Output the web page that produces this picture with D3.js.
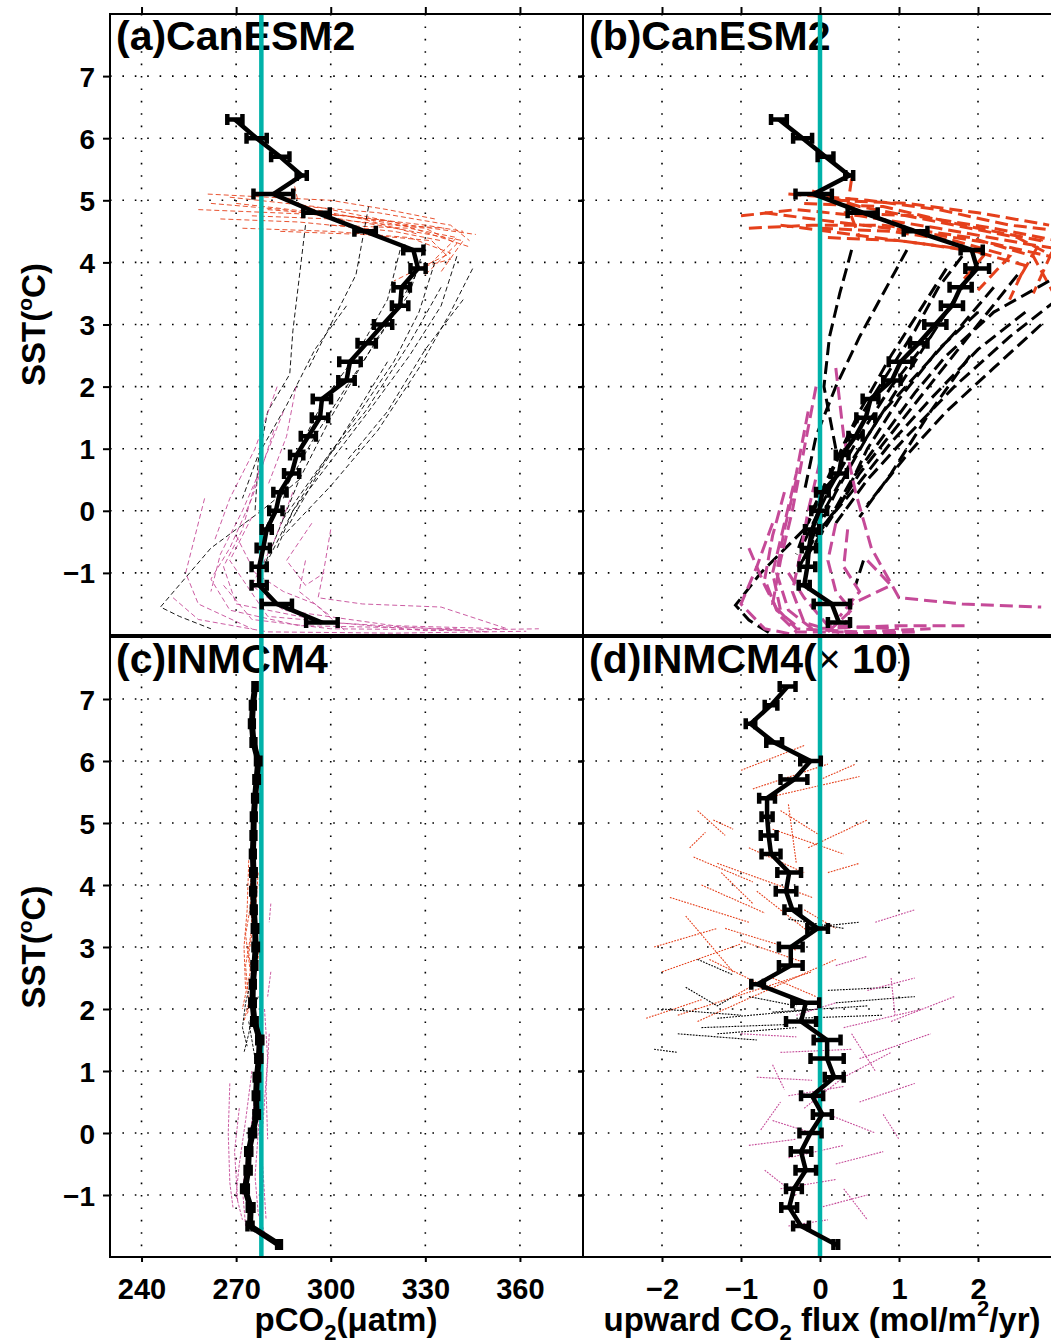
<!DOCTYPE html>
<html>
<head>
<meta charset="utf-8">
<script src="https://cdn.jsdelivr.net/npm/d3@7"></script>
<style>
  body { margin: 0; background: #fff; }
  svg { display: block; }
  text { font-family: "Liberation Sans", Arial, Helvetica, sans-serif; font-weight: bold; }
</style>
</head>
<body>
<svg id="chart"></svg>
<script>
// ---- data ----
const sstTicks = [-1, 0, 1, 2, 3, 4, 5, 6, 7];
const pco2Ticks = [240, 270, 300, 330, 360];
const fluxTicks = [-2, -1, 0, 1, 2];

// CanESM2 bin means (SST bins, pCO2, flux) with half-width of error bar
const sstCan = [6.3, 6.0, 5.7, 5.4, 5.1, 4.8, 4.5, 4.2, 3.9, 3.6, 3.3, 3.0, 2.7, 2.4, 2.1, 1.8, 1.5, 1.2, 0.9, 0.6, 0.3, 0.0, -0.3, -0.6, -0.9, -1.2, -1.5, -1.8];
const pco2Can = [269.6, 276.5, 284.0, 290.8, 281.8, 295.5, 310.9, 326.2, 327.7, 322.5, 322.0, 316.6, 311.4, 306.1, 305.0, 297.2, 296.6, 292.9, 289.2, 287.6, 283.9, 282.6, 279.7, 278.6, 277.3, 277.3, 282.9, 297.2];
const pco2ErrCan = [2.4, 3.2, 2.9, 1.6, 6.3, 4.2, 3.4, 3.2, 2.4, 2.6, 2.6, 2.9, 2.9, 3.4, 2.6, 2.9, 2.6, 2.4, 2.1, 2.4, 2.1, 2.1, 1.6, 2.1, 2.4, 2.4, 4.8, 5.0];
const fluxCan = [-0.52, -0.22, 0.07, 0.37, -0.08, 0.54, 1.21, 1.92, 1.99, 1.78, 1.67, 1.46, 1.25, 1.02, 0.91, 0.64, 0.58, 0.45, 0.28, 0.24, 0.03, -0.01, -0.10, -0.14, -0.16, -0.20, 0.15, 0.24];
const fluxErrCan = [0.10, 0.12, 0.10, 0.05, 0.23, 0.19, 0.15, 0.14, 0.15, 0.14, 0.14, 0.14, 0.11, 0.15, 0.11, 0.10, 0.12, 0.09, 0.08, 0.10, 0.08, 0.10, 0.09, 0.09, 0.10, 0.07, 0.23, 0.14];

// INMCM4 bin means
const sstInm = [7.2, 6.9, 6.6, 6.3, 6.0, 5.7, 5.4, 5.1, 4.8, 4.5, 4.2, 3.9, 3.6, 3.3, 3.0, 2.7, 2.4, 2.1, 1.8, 1.5, 1.2, 0.9, 0.6, 0.3, 0.0, -0.3, -0.6, -0.9, -1.2, -1.5, -1.8];
const pco2Inm = [276.0, 275.3, 275.0, 275.5, 277.0, 276.5, 276.0, 275.6, 275.5, 275.3, 275.5, 275.4, 275.6, 276.0, 276.2, 275.8, 275.3, 275.2, 275.8, 277.5, 277.2, 276.6, 276.3, 276.5, 275.2, 274.0, 273.8, 272.8, 274.6, 274.4, 283.6];
const pco2ErrInm = [0.5, 0.6, 0.6, 0.6, 0.7, 0.7, 0.6, 0.6, 0.6, 0.6, 0.7, 0.6, 0.6, 0.7, 0.7, 0.6, 0.6, 0.7, 0.7, 0.8, 0.8, 0.7, 0.7, 0.7, 0.8, 0.8, 0.8, 0.9, 0.9, 0.8, 0.6];
const fluxInm = [-0.41, -0.62, -0.88, -0.58, -0.12, -0.33, -0.67, -0.67, -0.65, -0.62, -0.39, -0.43, -0.35, -0.03, -0.37, -0.37, -0.79, -0.18, -0.24, 0.09, 0.09, 0.18, -0.10, 0.03, -0.12, -0.24, -0.18, -0.33, -0.39, -0.24, 0.20];
const fluxErrInm = [0.10, 0.08, 0.06, 0.10, 0.13, 0.17, 0.10, 0.07, 0.10, 0.12, 0.15, 0.13, 0.10, 0.13, 0.15, 0.15, 0.08, 0.17, 0.19, 0.17, 0.21, 0.12, 0.14, 0.12, 0.14, 0.13, 0.13, 0.10, 0.10, 0.10, 0.03];

// individual trajectories, [value, SST]
const aRed = [
  [[262, 4.95], [285, 4.85], [315, 4.6], [342, 4.35], [335, 3.85]],
  [[268, 5.05], [295, 4.9], [325, 4.6], [346, 4.45]],
  [[275, 4.75], [300, 4.7], [330, 4.55], [340, 4.3], [330, 3.8]],
  [[265, 4.7], [290, 4.65], [320, 4.5], [335, 4.35]],
  [[272, 4.55], [300, 4.5], [325, 4.4], [338, 4.15], [320, 3.7]],
  [[280, 4.85], [305, 4.75], [322, 4.6], [336, 4.55]],
  [[288, 5.35], [290, 4.9], [310, 4.7], [328, 4.45]],
  [[258, 4.85], [282, 4.8], [305, 4.75], [330, 4.6], [342, 4.5]],
  [[292, 4.9], [315, 4.8], [338, 4.6], [344, 4.35]],
  [[284, 4.5], [310, 4.45], [332, 4.35], [338, 4.05], [327, 3.9]],
  [[270, 4.95], [296, 4.8], [320, 4.65], [344, 4.25]],
  [[300, 4.6], [325, 4.55], [340, 4.4], [332, 4.0]],
  [[261, 5.1], [280, 5.05], [300, 5.0], [318, 4.85], [333, 4.7]]
];
const aBlack = [
  [[330, 4.3], [325, 3.5], [315, 2.8], [300, 1.5], [290, 0.5], [282, -0.5], [278, -1.0]],
  [[340, 4.1], [335, 3.3], [325, 2.5], [312, 1.6], [300, 0.8], [288, 0.0], [280, -0.8]],
  [[345, 3.9], [338, 3.2], [328, 2.3], [315, 1.3], [300, 0.4], [285, -0.4]],
  [[322, 4.2], [318, 3.4], [308, 2.5], [298, 1.8], [290, 1.0], [285, 0.2]],
  [[292, 4.6], [288, 2.9], [287, 2.2], [280, 1.6], [277, 0.8], [276, 0.0]],
  [[312, 4.9], [308, 3.8], [300, 3.0], [293, 2.3]],
  [[335, 3.6], [325, 2.7], [311, 1.6], [298, 0.8], [288, 0.0], [283, -0.6]],
  [[327, 3.8], [318, 3.0], [305, 2.0], [295, 1.2], [285, 0.3], [279, -0.3]],
  [[290, 0.5], [278, 0.0], [262, -0.6], [246, -1.55], [252, -1.7], [262, -1.9]],
  [[305, 3.3], [295, 2.6], [286, 1.7], [277, 0.9], [272, 0.2]],
  [[318, 2.4], [306, 1.4], [296, 0.6], [287, -0.2]],
  [[342, 3.4], [330, 2.6], [318, 1.6], [305, 0.8]],
  [[333, 4.0], [328, 3.2], [320, 2.4], [308, 1.5], [295, 0.6], [284, -0.2]]
];
const aMag = [
  [[282, 1.3], [275, 0.2], [268, -0.6], [262, -1.1], [268, -1.6], [290, -1.85], [340, -1.9]],
  [[278, 0.8], [272, -0.3], [266, -0.9], [270, -1.5], [300, -1.8], [350, -1.95]],
  [[288, 0.3], [282, -0.5], [275, -1.2], [285, -1.6], [320, -1.85], [355, -1.9]],
  [[300, -0.3], [298, -0.9], [296, -1.4], [310, -1.5], [335, -1.55], [356, -1.9]],
  [[294, -0.2], [286, -0.8], [292, -1.2], [298, -1.0]],
  [[260, 0.2], [256, -0.6], [254, -1.0], [258, -1.5], [275, -1.9]],
  [[285, 1.6], [278, 0.7], [272, 0.0], [265, -0.7], [262, -1.3]],
  [[270, -0.4], [276, -1.0], [285, -1.3], [295, -1.5], [305, -1.95]],
  [[250, -1.4], [258, -1.75], [280, -1.95], [320, -1.97], [362, -1.94]],
  [[275, -0.1], [268, -0.8], [280, -1.7], [330, -1.93], [366, -1.9]],
  [[292, -0.8], [290, -1.3], [300, -1.7]],
  [[283, 2.0], [276, 1.0], [268, 0.2], [263, -0.5]],
  [[289, 2.0], [286, 1.2], [280, 0.4]],
  [[266, -1.2], [275, -1.75], [300, -1.9], [345, -1.92]]
];

const bRed = [
  [[-1.0, 4.75], [-0.3, 4.85], [0.5, 4.75], [1.5, 4.55], [2.6, 4.3], [3.1, 4.2]],
  [[-0.7, 4.8], [0.2, 4.65], [1.2, 4.5], [2.2, 4.3], [2.9, 4.1]],
  [[-0.2, 4.95], [0.8, 4.9], [1.8, 4.6], [2.8, 4.35], [2.5, 3.7]],
  [[0.0, 4.55], [0.9, 4.5], [1.7, 4.35], [2.4, 4.1], [2.0, 3.55]],
  [[-0.1, 5.15], [0.5, 4.9], [1.5, 4.65], [2.5, 4.4], [3.1, 4.0]],
  [[-0.5, 4.6], [0.4, 4.45], [1.3, 4.3], [2.1, 4.15], [1.8, 3.7]],
  [[0.3, 4.8], [1.2, 4.75], [2.2, 4.55], [3.0, 4.35], [2.7, 3.5]],
  [[-0.4, 5.1], [0.6, 5.0], [1.5, 4.85], [2.4, 4.6], [3.1, 4.5]],
  [[0.1, 4.4], [1.0, 4.35], [1.9, 4.2], [2.6, 3.95], [2.4, 3.4]],
  [[-0.9, 4.55], [-0.1, 4.6], [0.8, 4.6], [1.9, 4.4], [2.7, 4.1], [3.0, 3.4]],
  [[0.4, 5.35], [0.35, 4.9], [0.5, 4.4]],
  [[0.2, 5.0], [1.1, 4.95], [2.0, 4.8], [2.9, 4.6]]
];
const bBlack = [
  [[2.0, 4.0], [1.6, 3.2], [1.1, 2.2], [0.6, 1.2], [0.2, 0.3], [-0.1, -0.5], [-0.3, -1.0]],
  [[2.5, 3.8], [2.0, 3.0], [1.5, 2.2], [1.0, 1.4], [0.5, 0.6], [0.1, -0.2], [-0.2, -0.8]],
  [[3.0, 3.4], [2.4, 2.8], [1.7, 2.0], [1.1, 1.2], [0.6, 0.5], [0.2, -0.2]],
  [[2.9, 3.7], [2.2, 3.2], [1.6, 2.5], [1.2, 1.9], [0.8, 1.2], [0.4, 0.5], [0.0, -0.4]],
  [[1.6, 3.9], [1.3, 3.3], [0.9, 2.5], [0.5, 1.6], [0.2, 0.8], [-0.1, 0.0], [-0.3, -0.7]],
  [[0.4, 4.2], [0.25, 3.5], [0.12, 2.8], [0.05, 2.0], [0.2, 1.0]],
  [[1.1, 4.2], [0.8, 3.5], [0.5, 2.8], [0.2, 2.0], [-0.05, 1.2], [-0.2, 0.3]],
  [[2.0, 3.2], [1.5, 2.6], [1.0, 1.8], [0.6, 1.0], [0.3, 0.2], [-0.15, -0.6]],
  [[1.4, 2.8], [0.9, 2.0], [0.5, 1.2], [0.1, 0.3], [-0.2, -0.5]],
  [[-0.2, -0.3], [-0.75, -1.0], [-1.07, -1.52], [-0.9, -1.76], [-0.6, -2.0]],
  [[2.6, 3.2], [2.0, 2.6], [1.4, 1.8], [0.9, 1.1], [0.4, 0.3], [0.0, -0.3]],
  [[1.9, 2.5], [1.4, 1.6], [0.9, 0.6], [0.5, -0.1]],
  [[2.2, 3.6], [1.8, 3.0], [1.3, 2.3], [0.8, 1.6], [0.4, 0.8], [0.05, 0.0], [-0.25, -0.9]],
  [[1.8, 4.1], [1.5, 3.6], [1.2, 2.9], [0.8, 2.1], [0.4, 1.3], [0.1, 0.5], [-0.15, -0.2]],
  [[0.55, -0.8], [0.45, -1.2]],
  [[2.8, 3.0], [2.2, 2.3], [1.6, 1.6], [1.1, 0.9], [0.6, 0.1]]
];
const bMag = [
  [[-0.05, 2.0], [-0.2, 1.0], [-0.35, 0.0], [-0.5, -0.8], [-0.6, -1.5], [-0.3, -1.9], [0.5, -1.95], [1.4, -1.9]],
  [[0.2, 2.3], [0.3, 1.2], [0.45, 0.3], [0.65, -0.6], [1.0, -1.4], [1.8, -1.5], [2.8, -1.55]],
  [[-0.9, -0.6], [-0.7, -1.2], [-0.5, -1.7], [-0.3, -1.95], [0.3, -1.95]],
  [[-0.3, 0.5], [-0.45, -0.3], [-0.55, -1.0], [-0.4, -1.6], [-0.1, -1.9], [1.0, -1.85], [1.9, -1.85]],
  [[-0.4, -1.0], [-0.2, -1.4], [0.1, -1.85], [1.0, -1.9]],
  [[0.2, -0.2], [0.1, -0.8], [0.2, -1.3], [0.4, -1.6], [0.1, -1.95]],
  [[-0.6, -0.2], [-0.8, -0.9], [-1.0, -1.5], [-0.7, -1.9], [-0.3, -2.0]],
  [[0.0, 0.8], [-0.15, 0.0], [-0.25, -0.7], [-0.35, -1.3], [-0.2, -1.8], [0.3, -1.98], [1.2, -1.95]],
  [[0.6, -0.8], [0.9, -1.2], [0.4, -1.5], [0.3, -1.9]],
  [[-0.45, 0.3], [-0.6, -0.4], [-0.7, -1.1], [-0.55, -1.6], [-0.3, -1.85]],
  [[-0.15, 1.6], [-0.3, 0.6], [-0.45, -0.2], [-0.6, -1.0], [-0.5, -1.6]],
  [[0.35, -0.3], [0.3, -0.9], [0.5, -1.3], [0.25, -1.7]]
];

const cRed = [
  [[276, 4.6], [274.5, 4.0], [275, 3.3], [273, 2.7], [274, 2.1], [272.5, 1.8]],
  [[277, 4.2], [276, 3.5], [274, 2.9], [275.5, 2.4], [273.5, 1.9]],
  [[275, 3.8], [273, 3.2], [274.5, 2.6], [272, 2.0]],
  [[277.5, 3.0], [276, 2.5], [275, 2.0], [276.5, 1.7]],
  [[274, 4.4], [273.5, 3.6], [272.5, 3.0], [273, 2.3]],
  [[276.5, 5.2], [275.5, 4.8], [276, 4.3]]
];
const cBlack = [
  [[275, 2.5], [273, 2.1], [272, 1.7], [273.5, 1.4]],
  [[277, 2.2], [275, 1.9], [274, 1.6], [272.5, 1.3]],
  [[276, 1.9], [274, 1.8], [275, 1.5], [276, 1.2]]
];
const cMag = [
  [[279, 2.0], [280, 1.2], [279, 0.5], [278, -0.2], [279, -1.0], [279.5, -1.4]],
  [[277, 1.5], [276, 0.6], [274, -0.2], [272, -0.9], [273, -1.5]],
  [[268, 0.8], [267.5, 0.0], [268, -0.8], [269, -1.2]],
  [[275, 1.0], [273, 0.2], [271, -0.5], [270, -1.0], [272, -1.4]],
  [[278, 0.8], [277, 0.0], [276, -0.7], [277, -1.3], [279, -1.6]],
  [[280.5, 1.6], [279.5, 0.7], [280, -0.1]],
  [[271, 0.4], [269.5, -0.3], [270.5, -1.1]],
  [[281, 3.7], [280.5, 3.4]],
  [[281, 2.6], [280, 2.2]]
];

const dRed = [
  [[-1.0, 5.85], [-0.2, 6.25]], [[-0.85, 5.55], [0.1, 5.95]], [[0.0, 5.7], [0.45, 5.95]],
  [[-1.55, 5.2], [-1.2, 4.8]], [[-1.65, 4.6], [-1.45, 4.85]], [[-1.6, 4.45], [-0.85, 4.05]],
  [[-1.5, 4.0], [-0.7, 3.55]], [[-0.5, 5.2], [0.0, 4.8]], [[-0.4, 5.3], [-0.3, 4.35]],
  [[-1.3, 4.35], [-0.1, 3.8]], [[-1.9, 3.8], [-0.9, 3.4]], [[-1.2, 3.3], [-0.3, 2.95]],
  [[-2.1, 3.0], [-1.3, 3.3]], [[-2.0, 2.6], [-1.0, 3.05]], [[-1.8, 1.9], [-0.1, 2.6]],
  [[-1.55, 1.8], [0.2, 2.8]], [[-2.2, 1.85], [-1.5, 2.15]], [[-1.1, 2.2], [-0.4, 2.7]],
  [[-0.9, 4.6], [-0.2, 4.2]], [[-0.6, 4.9], [0.3, 4.5]], [[-1.35, 5.05], [-1.1, 4.9]],
  [[0.1, 4.2], [0.5, 4.35]], [[-0.8, 3.9], [-0.1, 3.2]], [[-1.7, 3.5], [-1.1, 2.6]],
  [[-0.6, 2.5], [-0.05, 2.2]], [[-1.4, 2.8], [-0.6, 2.3]], [[-0.2, 3.6], [0.2, 3.3]],
  [[-1.25, 4.2], [-0.85, 3.7]], [[-0.7, 5.4], [0.5, 5.75]], [[-0.15, 4.6], [0.6, 5.05]],
  [[-1.0, 3.1], [-0.2, 2.75]]
];
const dBlack = [
  [[-1.7, 2.35], [-1.3, 2.05], [-1.1, 2.2]], [[-2.0, 2.0], [-1.0, 1.9]], [[-1.3, 1.85], [0.0, 2.0]],
  [[-0.6, 1.95], [0.6, 2.05]], [[0.1, 2.3], [0.9, 2.35]], [[0.2, 2.1], [1.2, 2.2]],
  [[-1.5, 1.7], [-0.4, 1.75]], [[-0.3, 1.85], [0.8, 1.9]], [[-2.1, 1.35], [-1.8, 1.3]],
  [[-1.3, 1.6], [-0.3, 1.7]], [[-1.55, 2.8], [-1.1, 2.55]], [[-0.9, 2.2], [-0.3, 2.05]],
  [[-1.8, 1.6], [-0.8, 1.5]], [[-0.4, 3.45], [0.3, 3.3]], [[-0.1, 3.32], [0.5, 3.4]]
];
const dMag = [
  [[0.7, 3.4], [1.2, 3.6]], [[0.2, 2.7], [0.6, 2.85]], [[0.6, 2.3], [1.2, 2.5]],
  [[0.3, 1.7], [1.3, 2.0]], [[0.9, 1.8], [1.7, 2.2]], [[-1.0, 1.6], [-0.3, 1.55]],
  [[-0.5, 1.3], [0.4, 1.35]], [[0.5, 1.2], [1.4, 1.6]], [[0.3, 0.9], [0.9, 1.3]],
  [[-0.8, 0.9], [-0.1, 0.85]], [[-0.4, 0.6], [0.3, 0.75]], [[0.5, 0.5], [1.2, 0.8]],
  [[0.1, 0.3], [0.7, 0.0]], [[-0.6, 0.2], [-0.1, 0.0]], [[-0.9, -0.2], [-0.3, -0.1]],
  [[-0.4, -0.4], [0.3, -0.2]], [[0.2, -0.5], [0.8, -0.3]], [[-0.7, -0.6], [-0.3, -1.0]],
  [[-0.5, -0.9], [0.2, -0.75]], [[0.0, -1.2], [0.6, -1.0]], [[-0.4, -1.5], [0.1, -1.4]],
  [[-0.2, 0.4], [0.3, 0.9]], [[-0.3, 1.9], [0.2, 2.1]], [[0.4, 1.6], [0.7, 1.0]],
  [[-0.75, 0.05], [-0.5, 0.5]], [[0.8, 0.3], [1.0, -0.1]], [[0.9, 2.5], [0.95, 1.9]],
  [[-0.6, 1.1], [-0.45, 0.7]], [[0.3, -0.9], [0.6, -1.4]]
];

// ---- chart ----
const W = 1051, H = 1344;
const red = '#e5401b', mag = '#c54a98', teal = '#00b2a9';

const svg = d3.select('#chart').attr('width', W).attr('height', H);
svg.append('rect').attr('width', W).attr('height', H).attr('fill', '#fff');

const xPco2 = d3.scaleLinear().domain([230, 380]).range([110, 583]);
const xFlux = d3.scaleLinear().domain([-3, 3]).range([583, 1057]);
const yTop = d3.scaleLinear().domain([-2, 8]).range([635, 14]);
const yBot = d3.scaleLinear().domain([-2, 8]).range([1257, 637]);

const minus = d => d < 0 ? '\u2212' + Math.abs(d) : String(d);

const panels = [
  { key: 'a', x: xPco2, y: yTop, title: '(a)CanESM2', bins: sstCan, mean: pco2Can, err: pco2ErrCan, ref: 278,
    xt: pco2Ticks, traces: [[aRed, red], [aBlack, '#000'], [aMag, mag]], tw: 1, dash: '5,3', op: 0.9, mw: 4.5, col: 0, row: 0 },
  { key: 'b', x: xFlux, y: yTop, title: '(b)CanESM2', bins: sstCan, mean: fluxCan, err: fluxErrCan, ref: 0,
    xt: fluxTicks, traces: [[bRed, red], [bBlack, '#000'], [bMag, mag]], tw: 3, dash: '13,6', op: 1, mw: 4.5, col: 1, row: 0 },
  { key: 'c', x: xPco2, y: yBot, title: '(c)INMCM4', bins: sstInm, mean: pco2Inm, err: pco2ErrInm, ref: 278,
    xt: pco2Ticks, traces: [[cRed, red], [cBlack, '#000'], [cMag, mag]], tw: 1, dash: '3,1.5', op: 0.9, mw: 6, col: 0, row: 1 },
  { key: 'd', x: xFlux, y: yBot, title: '(d)INMCM4(', x10: true, bins: sstInm, mean: fluxInm, err: fluxErrInm, ref: 0,
    xt: fluxTicks, traces: [[dRed, red], [dBlack, '#000'], [dMag, mag]], tw: 1.1, dash: '1.8,1.2', op: 1, mw: 4.5, col: 1, row: 1 }
];

const line = (x, y) => d3.line().x(d => x(d[0])).y(d => y(d[1]));

panels.forEach(p => {
  const [x0, x1] = p.x.range();
  const [y1, y0] = p.y.range();
  const g = svg.append('g').attr('class', 'panel-' + p.key);

  g.append('clipPath').attr('id', 'clip-' + p.key)
    .append('rect').attr('x', x0).attr('y', y0).attr('width', x1 - x0).attr('height', y1 - y0);

  // dotted grid
  const grid = g.append('g').attr('stroke', '#000').attr('stroke-width', 1.6)
    .attr('stroke-dasharray', '1.6,10.8');
  grid.selectAll('.vg').data(p.xt).join('line')
    .attr('x1', d => p.x(d)).attr('x2', d => p.x(d)).attr('y1', y0).attr('y2', y1);
  grid.selectAll('.hg').data(sstTicks).join('line')
    .attr('x1', x0).attr('x2', x1).attr('y1', d => p.y(d)).attr('y2', d => p.y(d));

  // individual trajectories
  const tr = g.append('g').attr('clip-path', `url(#clip-${p.key})`).attr('fill', 'none');
  p.traces.forEach(([set, color]) => {
    tr.append('g').selectAll('path').data(set).join('path')
      .attr('d', line(p.x, p.y))
      .attr('stroke', color)
      .attr('stroke-width', p.tw)
      .attr('stroke-dasharray', p.dash)
      .attr('opacity', p.op);
  });

  // panel title
  const t = g.append('text').attr('x', x0 + 6).attr('y', y0 + 36)
    .attr('font-size', 41).text(p.title);
  if (p.x10) {
    t.append('tspan').attr('font-weight', 'normal').text('\u00d7');
    t.append('tspan').text(' 10)');
  }

  // reference line
  g.append('line').attr('x1', p.x(p.ref)).attr('x2', p.x(p.ref)).attr('y1', y0).attr('y2', y1)
    .attr('stroke', teal).attr('stroke-width', 4.5);

  // mean with error bars
  const pts = p.bins.map((s, i) => ({ v: p.mean[i], s: s, e: p.err[i] }));
  const mg = g.append('g').attr('clip-path', `url(#clip-${p.key})`);
  mg.selectAll('.eb').data(pts).join('path')
    .attr('fill', 'none').attr('stroke', '#000').attr('stroke-width', 4.5)
    .attr('d', d => {
      const yy = p.y(d.s), a = p.x(d.v - d.e), b = p.x(d.v + d.e);
      return `M${a},${yy}H${b}M${a},${yy - 5.5}V${yy + 5.5}M${b},${yy - 5.5}V${yy + 5.5}`;
    });
  mg.append('path').datum(pts.map(d => [d.v, d.s]))
    .attr('d', line(p.x, p.y))
    .attr('fill', 'none').attr('stroke', '#000').attr('stroke-width', p.mw)
    .attr('stroke-linejoin', 'round');

  // frame
  g.append('rect').attr('x', x0).attr('y', y0).attr('width', x1 - x0).attr('height', y1 - y0)
    .attr('fill', 'none').attr('stroke', '#000').attr('stroke-width', 2);

  // ticks
  const styleAxis = a => {
    a.select('.domain').remove();
    a.selectAll('.tick line').attr('stroke-width', 2);
    a.attr('font-family', null).attr('font-size', null);
  };
  if (p.col === 0) {
    g.append('g').attr('transform', `translate(${x0},0)`)
      .call(d3.axisLeft(p.y).tickValues(sstTicks).tickSize(7).tickPadding(8).tickFormat(minus))
      .call(styleAxis)
      .selectAll('text').attr('font-size', 28).attr('dy', '0.36em');
  }
  g.append('g').attr('transform', `translate(583,0)`)
    .call(d3.axisLeft(p.y).tickValues(sstTicks).tickSize(5).tickFormat(''))
    .call(styleAxis);
  if (p.row === 0) {
    g.append('g').attr('transform', `translate(0,${y0})`)
      .call(d3.axisTop(p.x).tickValues(p.xt).tickSize(7).tickFormat(''))
      .call(styleAxis);
  } else {
    g.append('g').attr('transform', `translate(0,${y1})`)
      .call(d3.axisBottom(p.x).tickValues(p.xt).tickSize(5).tickFormat(minus))
      .call(styleAxis)
      .selectAll('text').attr('font-size', 29).attr('y', 42).attr('dy', 0);
  }
});

// y axis titles
[yTop, yBot].forEach(y => {
  const cy = (y.range()[0] + y.range()[1]) / 2;
  const t = svg.append('text').attr('transform', `translate(45,${cy}) rotate(-90)`)
    .attr('text-anchor', 'middle').attr('font-size', 33);
  t.append('tspan').text('SST(');
  t.append('tspan').attr('font-size', 21).attr('dy', -13).text('o');
  t.append('tspan').attr('dy', 13).text('C)');
});

// x axis titles
const xl1 = svg.append('text').attr('x', 346).attr('y', 1331).attr('text-anchor', 'middle').attr('font-size', 33);
xl1.append('tspan').text('pCO');
xl1.append('tspan').attr('font-size', 22).attr('dy', 9).text('2');
xl1.append('tspan').attr('dy', -9).text('(\u03bcatm)');

const xl2 = svg.append('text').attr('x', 822).attr('y', 1331).attr('text-anchor', 'middle').attr('font-size', 33);
xl2.append('tspan').text('upward CO');
xl2.append('tspan').attr('font-size', 22).attr('dy', 9).text('2');
xl2.append('tspan').attr('dy', -9).text(' flux (mol/m');
xl2.append('tspan').attr('font-size', 22).attr('dy', -15).text('2');
xl2.append('tspan').attr('dy', 15).text('/yr)');
</script>
</body>
</html>
